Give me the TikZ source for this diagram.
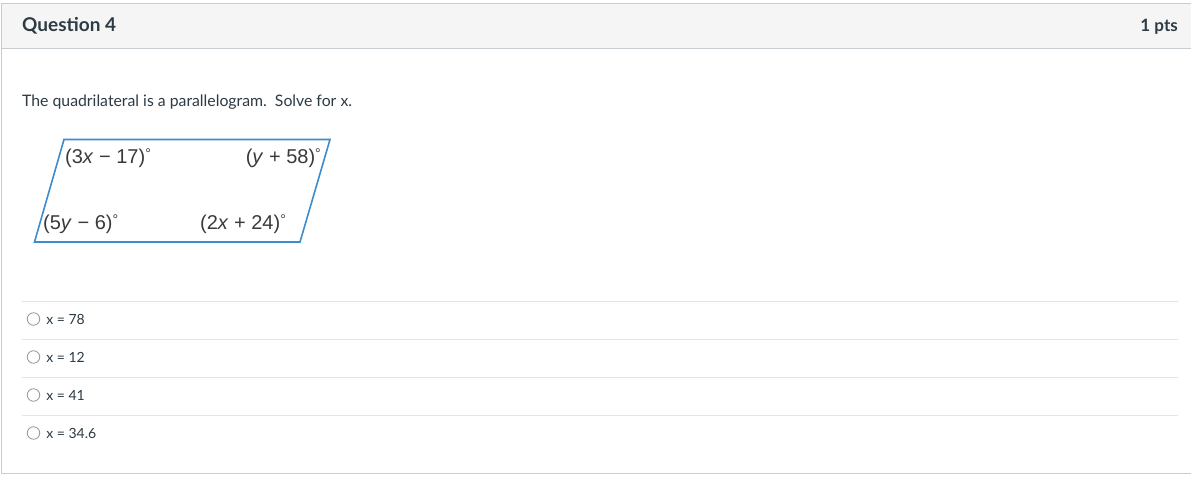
\documentclass[tikz,border=0pt]{standalone}
\usepackage{fontspec}
\setmainfont{Lato}
\newfontfamily\figfont{Liberation Sans}
\usetikzlibrary{positioning}
\definecolor{canvastext}{HTML}{2D3B45}
\definecolor{headfill}{HTML}{F5F5F5}
\definecolor{frameline}{HTML}{C7CDD1}
\definecolor{ruleline}{HTML}{E2E4E6}
\definecolor{figblue}{HTML}{3C8DCF}
\definecolor{figtext}{HTML}{3A3A3A}
\newcommand{\degmark}{\raisebox{5pt}{\fontsize{14}{14}\selectfont°}}

\begin{document}
\begin{tikzpicture}[x=1pt,y=-1pt]
\tikzstyle{head}=[anchor=west,inner sep=0pt,text=canvastext,font=\fontsize{19}{20}\selectfont\bfseries]
\tikzstyle{body}=[anchor=west,inner sep=0pt,text=canvastext,font=\fontsize{15.8}{18}\selectfont]
\tikzstyle{answer}=[inner sep=0pt,text=canvastext,font=\fontsize{14}{15}\selectfont]
\tikzstyle{radio}=[circle,draw=gray!80,line width=0.8pt,minimum size=12.5pt,inner sep=0pt]
\tikzstyle{angle}=[inner sep=0pt,text=figtext,font=\figfont\fontsize{20}{22}\selectfont]
\useasboundingbox (0,0) rectangle (1191,478);
% frame and header
\fill [white] (0,0) rectangle (1191,478);
\draw [frameline,fill=headfill] (1.5,3.5) rectangle (1195,48.5);
\draw [frameline] (1.5,48.5) -- (1.5,473.5) -- (1195,473.5);
\node (title) [head] at (22,25.5) {Question 4};
\node (points) [head,anchor=east,font=\fontsize{17}{20}\selectfont\bfseries] at (1178,26.5) {1 pts};
\node (prompt) [body] at (22,102) {The quadrilateral is a parallelogram.\ \ Solve for x.};
% parallelogram
\coordinate (bl) at (34.5,242);
\coordinate (br) at (300,242);
\coordinate (tr) at (330,139.5);
\coordinate (tl) at (64,139.5);
\draw [figblue,line width=1.6pt,line join=miter] (bl) -- (br) -- (tr) -- (tl) -- cycle;
\node (a1) [angle,anchor=west] at (65,158) {(3\textit{x} − 17)\degmark};
\node (a2) [angle,anchor=east] at (321,158) {(\textit{y} + 58)\degmark};
\node (a3) [angle,anchor=west] at (43,224) {(5\textit{y} − 6)\degmark};
\node (a4) [angle,anchor=west] at (200,224) {(2\textit{x} + 24)\degmark};
% answer choices
\foreach \y/\val [count=\i] in {319/78,357/12,395/41,433/34.6} {
  \draw [ruleline] (22,\y-18) -- (1178,\y-18);
  \node (r\i) [radio] at (33.5,\y) {};
  \node (c\i) [answer,right=6pt of r\i] {x = \val};
}
\end{tikzpicture}
\end{document}
